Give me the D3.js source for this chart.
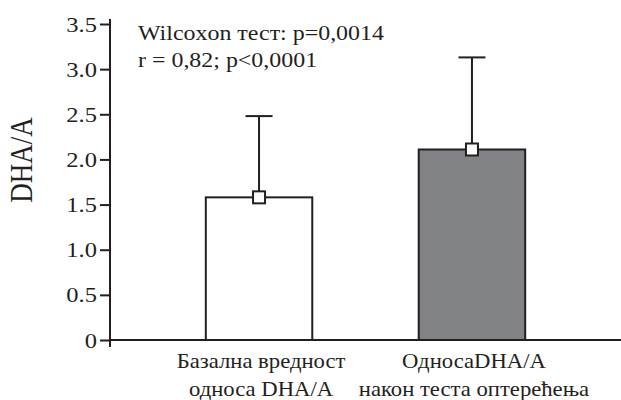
<!DOCTYPE html>
<html lang="en">
<head>
  <meta charset="UTF-8">
  <script src="https://cdn.jsdelivr.net/npm/d3@7/dist/d3.min.js"></script>
  <style>
    body { margin: 0; background: #fff; }
    svg text { fill: #231f20; }
  </style>
</head>
<body>
<svg></svg>
<script>
  // data
  var categories = ["base", "after"];
  var labelLines = [["Базална вредност", "односа DHA/A"], ["ОдносаDHA/A", "након теста оптерећења"]];
  var means = [1.58, 2.11];
  var sds = [0.90, 1.02];
  var fills = ["#ffffff", "#818285"];
  var yTicks = [0, 0.5, 1.0, 1.5, 2.0, 2.5, 3.0, 3.5];
  var yTickLabels = ["0", "0.5", "1.0", "1.5", "2.0", "2.5", "3.0", "3.5"];
  var notes = ["Wilcoxon тест: p=0,0014", "r = 0,82; p<0,0001"];

  var W = 621, H = 400;
  var ink = "#231f20";
  var serif = "'Liberation Serif', 'Times New Roman', serif";

  var svg = d3.select("svg").attr("width", W).attr("height", H);

  var y = d3.scaleLinear().domain([0, 3.5]).range([340, 24]);
  var x = d3.scaleBand().domain(categories).range([110, 621])
    .paddingInner(0.5).paddingOuter(0.45);

  // bars
  svg.selectAll("rect.bar")
    .data(categories)
    .enter().append("rect")
    .attr("class", "bar")
    .attr("x", function(d) { return x(d); })
    .attr("width", x.bandwidth())
    .attr("y", function(d, i) { return y(means[i]); })
    .attr("height", function(d, i) { return y(0) - y(means[i]); })
    .attr("fill", function(d, i) { return fills[i]; })
    .attr("stroke", ink).attr("stroke-width", 2);

  // error bars + mean marker
  var capW = 27;
  var eb = svg.selectAll("g.err").data(categories).enter().append("g")
    .attr("transform", function(d) { return "translate(" + (x(d) + x.bandwidth() / 2) + ",0)"; });
  eb.append("line")
    .attr("y1", function(d, i) { return y(means[i]); })
    .attr("y2", function(d, i) { return y(means[i] + sds[i]); })
    .attr("stroke", ink).attr("stroke-width", 2);
  eb.append("line")
    .attr("x1", -capW / 2).attr("x2", capW / 2)
    .attr("y1", function(d, i) { return y(means[i] + sds[i]); })
    .attr("y2", function(d, i) { return y(means[i] + sds[i]); })
    .attr("stroke", ink).attr("stroke-width", 2);
  eb.append("rect")
    .attr("x", -6).attr("width", 12).attr("height", 12)
    .attr("y", function(d, i) { return y(means[i]) - 6; })
    .attr("fill", "#fff").attr("stroke", ink).attr("stroke-width", 2);

  // axes
  var yAxis = d3.axisLeft(y).tickValues(yTicks).tickSize(10).tickSizeOuter(0)
    .tickFormat(function(d, i) { return yTickLabels[i]; });
  var gy = svg.append("g").attr("transform", "translate(110,0)").call(yAxis)
    .attr("font-family", serif);
  gy.select(".domain").remove();
  gy.selectAll(".tick line").attr("stroke", ink).attr("stroke-width", 2);
  gy.selectAll(".tick text")
    .attr("x", null).attr("dy", null)
    .attr("transform", "translate(-13,7) scale(1.17,1)")
    .style("font-size", "21px").style("font-family", serif).attr("fill", ink);

  svg.append("line")
    .attr("x1", 110).attr("x2", 110)
    .attr("y1", y(0) + 7).attr("y2", y(3.5) - 5)
    .attr("stroke", ink).attr("stroke-width", 2);
  svg.append("line")
    .attr("x1", x.range()[0]).attr("x2", x.range()[1])
    .attr("y1", y(0)).attr("y2", y(0))
    .attr("stroke", ink).attr("stroke-width", 2);

  // category labels
  var xl = svg.selectAll("g.xl").data(categories).enter().append("g")
    .attr("transform", function(d) { return "translate(" + (x(d) + x.bandwidth() / 2 + 2) + ",0)"; });
  xl.each(function(d, i) {
    var g = d3.select(this);
    labelLines[i].forEach(function(t, j) {
      g.append("text")
        .attr("text-anchor", "middle")
        .attr("transform", "translate(0," + (368 + j * 27.5) + ") scale(1.08,1)")
        .style("font-size", "21px").style("font-family", serif)
        .text(t);
    });
  });

  // y label
  svg.append("text")
    .attr("text-anchor", "middle")
    .attr("transform", "translate(32,160) scale(1.17,1) rotate(-90)")
    .style("font-size", "27px").style("font-family", serif)
    .text("DHA/A");

  // notes
  notes.forEach(function(t, j) {
    svg.append("text")
      .attr("transform", "translate(138," + (40 + j * 27) + ") scale(1.14,1)")
      .style("font-size", "21px").style("font-family", serif)
      .text(t);
  });
</script>
</body>
</html>
